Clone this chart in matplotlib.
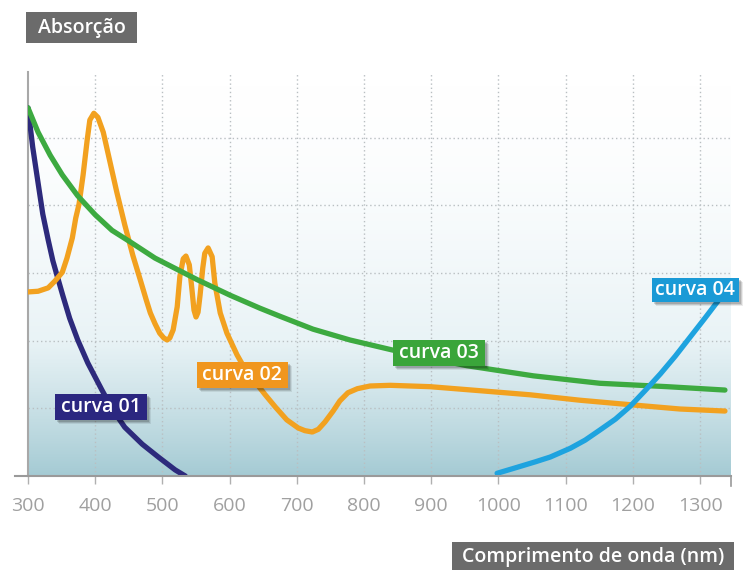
import numpy as np
import matplotlib.pyplot as plt
from matplotlib.colors import LinearSegmentedColormap
from matplotlib.patches import Rectangle
from matplotlib.transforms import IdentityTransform

plt.rcParams['font.family'] = ['Open Sans', 'DejaVu Sans']

# datos (nm, absorcion en unidades de la grilla)
nm_01 = [300, 307, 315, 322, 330, 337, 343, 352, 362, 374, 389, 410, 426, 444,
         470, 494, 519, 534]
abs_01 = [5.44, 4.86, 4.33, 3.87, 3.49, 3.18, 2.97, 2.66, 2.33, 2.01, 1.67, 1.27, 0.98, 0.72,
          0.47, 0.28, 0.09, 0.0]

nm_02 = [300, 315, 330, 340, 351, 358, 366, 371, 376, 382, 388, 392, 398, 404, 412,
         422, 432, 444, 456, 467, 476, 482, 489, 496, 502, 507, 511, 516, 522, 526,
         531, 535, 540, 544, 547, 550, 553, 556, 560, 563, 568, 574, 578, 586, 596,
         611, 623, 638, 653, 668, 685, 702, 712, 723, 732, 742, 754, 764, 776, 790,
         809, 839, 898, 973, 1047, 1121, 1200, 1270, 1337]
abs_02 = [2.72, 2.73, 2.78, 2.88, 3.01, 3.22, 3.52, 3.81, 4.02, 4.45, 4.96, 5.26, 5.36, 5.30, 5.08,
          4.64, 4.20, 3.71, 3.26, 2.90, 2.60, 2.41, 2.25, 2.11, 2.04, 2.01, 2.04, 2.16, 2.50, 2.95,
          3.21, 3.25, 3.12, 2.75, 2.45, 2.35, 2.42, 2.67, 3.07, 3.29, 3.37, 3.24, 2.85, 2.41, 2.11,
          1.79, 1.58, 1.39, 1.20, 1.02, 0.83, 0.71, 0.67, 0.65, 0.69, 0.80, 0.96, 1.11, 1.23, 1.29,
          1.33, 1.34, 1.32, 1.26, 1.20, 1.12, 1.05, 0.99, 0.96]

nm_03 = [300, 315, 333, 351, 374, 400, 425, 452, 489, 552, 601, 645, 675, 724, 779,
         843, 898, 953, 1052, 1151, 1251, 1337]
abs_03 = [5.44, 5.08, 4.74, 4.45, 4.14, 3.86, 3.63, 3.46, 3.22, 2.90, 2.67, 2.48, 2.36, 2.17, 2.01,
          1.86, 1.74, 1.63, 1.48, 1.37, 1.32, 1.27]

nm_04 = [998, 1025, 1055, 1077, 1107, 1129, 1151, 1174, 1196, 1218, 1241, 1263, 1285, 1307, 1330]
abs_04 = [0.04, 0.12, 0.21, 0.28, 0.41, 0.53, 0.68, 0.84, 1.03, 1.26, 1.51, 1.77, 2.05, 2.33, 2.63]

etiquetas = ['curva 01', 'curva 02', 'curva 03', 'curva 04']
colores_linea = ['#2d2a7c', '#f2a11f', '#3daa40', '#1ea3df']
colores_caja = ['#2b2780', '#f0961e', '#3aa53a', '#1a9ad6']
xticks = [300, 400, 500, 600, 700, 800, 900, 1000, 1100, 1200, 1300]

W, H = 744, 570
fig = plt.figure(figsize=(W / 100, H / 100), dpi=100)
ax = fig.add_axes([28 / W, 94 / H, 703 / W, 404 / H])
xmin, xmax, ymin, ymax = 300, 1346, 0, 5.97

# fondo degradado
grad = np.linspace(0, 1, 256) ** 1.7
cmap = LinearSegmentedColormap.from_list('fondo', ['#ffffff', '#e9f3f6', '#a5cbd4'])
ax.imshow(grad[:, None], aspect='auto', cmap=cmap, extent=[xmin, xmax, ymin, ymax],
          origin='upper', zorder=0)

ax.set_xlim(xmin, xmax)
ax.set_ylim(ymin, ymax)

# grilla punteada
for x in xticks[1:]:
    ax.axvline(x, color='#b9bfc2', lw=1, ls=(0, (1, 2)), zorder=1)
for y in [1, 2, 3, 4, 5]:
    ax.axhline(y, color='#b9bfc2', lw=1, ls=(0, (1, 2)), zorder=1)

# curvas
datos = [(nm_02, abs_02, 1), (nm_01, abs_01, 0), (nm_03, abs_03, 2), (nm_04, abs_04, 3)]
for xs, ys, i in datos:
    ax.plot(xs, ys, color=colores_linea[i], lw=3.8, solid_capstyle='round',
            solid_joinstyle='round', zorder=3 + i)

# etiquetas de las curvas (caja de color con sombra suave)
pos_etiquetas = [(409, 1.02), (619, 1.49), (912, 1.82), (1293, 2.75)]
tam_cajas = [(92, 26), (91, 26), (92, 26), (87, 24)]
for (x, y), (w, h), texto, c in zip(pos_etiquetas, tam_cajas, etiquetas, colores_caja):
    cx, cy = ax.transData.transform((x, y))
    for d, a in [(4, 0.08), (3, 0.12), (2, 0.15)]:
        fig.add_artist(Rectangle((cx - w / 2 + d, cy - h / 2 - d), w, h,
                                 transform=IdentityTransform(),
                                 fc='black', ec='none', alpha=a, zorder=8))
    fig.add_artist(Rectangle((cx - w / 2, cy - h / 2), w, h, transform=IdentityTransform(),
                             fc=c, ec='none', zorder=9))
    fig.text(cx / W, cy / H, texto, fontsize=14, fontweight='semibold', color='white',
             ha='center', va='center', zorder=10)

# ejes
for s in ['top', 'right', 'bottom']:
    ax.spines[s].set_visible(False)
ax.spines['left'].set_color('#a8a8a8')
ax.spines['left'].set_linewidth(1.5)
ax.plot([-0.018, 1.0], [0, 0], transform=ax.transAxes, color='#9a9a9a', lw=1.5,
        clip_on=False, zorder=10)
ax.plot([1.0, 1.0], [0, -0.025], transform=ax.transAxes, color='#9a9a9a', lw=1.2,
        clip_on=False, zorder=10)
ax.set_yticks([])
ax.set_xticks(xticks)
ax.tick_params(axis='x', length=6, width=1, color='#b0b0b0', pad=9,
               labelsize=14, labelcolor='#a0a0a0')

# titulos de ejes en cajas grises
for (x0, y0, x1, y1), texto in [((26, 12, 137, 43), 'Absorção'),
                                ((452, 542, 734, 572), 'Comprimento de onda (nm)')]:
    fig.add_artist(Rectangle((x0, H - y1), x1 - x0, y1 - y0, transform=IdentityTransform(),
                             fc='#6b6b6b', ec='none'))
    fig.text((x0 + x1) / 2 / W, 1 - (y0 + y1) / 2 / H, texto, fontsize=14,
             fontweight='semibold', color='white', ha='center', va='center')

fig.savefig('out.png', dpi=100)
